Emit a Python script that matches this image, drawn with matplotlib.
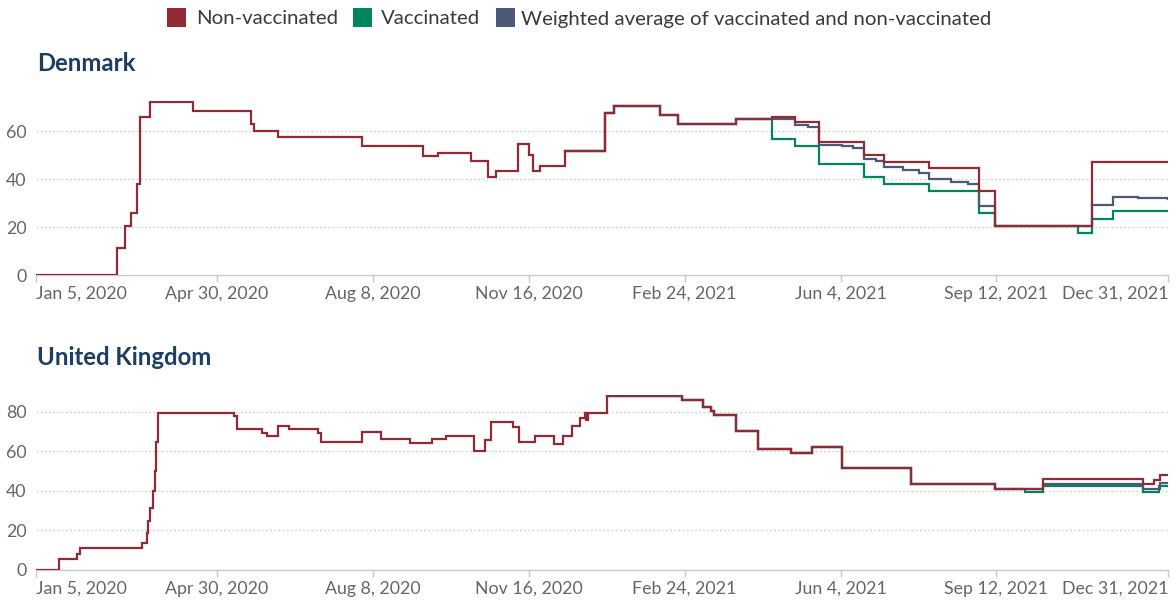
import matplotlib
matplotlib.use("Agg")
import matplotlib.pyplot as plt
from matplotlib.patches import Rectangle
import pandas as pd

plt.rcParams['font.family'] = ['Lato', 'DejaVu Sans']

# ---------------- data ----------------
dk_nonvax_dates = ["2020-01-05", "2020-02-26", "2020-03-02", "2020-03-06", "2020-03-10", "2020-03-12",
                   "2020-03-18", "2020-04-15", "2020-05-22", "2020-05-24", "2020-06-08", "2020-08-01",
                   "2020-09-09", "2020-09-19", "2020-10-10", "2020-10-21", "2020-10-26", "2020-11-09",
                   "2020-11-16", "2020-11-19", "2020-11-23", "2020-12-09", "2021-01-04", "2021-01-10",
                   "2021-02-08", "2021-02-20", "2021-03-29", "2021-04-21", "2021-05-06", "2021-05-21",
                   "2021-06-19", "2021-07-02", "2021-07-31", "2021-09-01", "2021-09-11", "2021-11-12",
                   "2021-12-31"]
dk_nonvax_values = [0, 11.11, 20.37, 25.93, 37.96, 65.74,
                    72.22, 68.52, 62.96, 60.19, 57.41, 53.70,
                    49.54, 50.93, 47.69, 40.74, 43.52, 54.63,
                    50.00, 43.52, 45.37, 51.85, 67.59, 70.37,
                    66.67, 62.96, 64.81, 65.74, 63.89, 55.56,
                    50.00, 47.22, 44.44, 35.19, 20.37, 47.22,
                    47.22]

dk_vax_dates = ["2020-12-09", "2021-01-04", "2021-01-10", "2021-02-08", "2021-02-20", "2021-03-29",
                "2021-04-21", "2021-05-06", "2021-05-21", "2021-06-19", "2021-07-02", "2021-07-31",
                "2021-09-01", "2021-09-11", "2021-11-03", "2021-11-12", "2021-11-26", "2021-12-31"]
dk_vax_values = [51.85, 67.59, 70.37, 66.67, 62.96, 64.81,
                 56.48, 53.70, 46.30, 40.74, 37.96, 35.19,
                 25.93, 20.37, 17.59, 23.15, 26.85, 26.85]

dk_avg_dates = ["2020-12-09", "2021-01-04", "2021-01-10", "2021-02-08", "2021-02-20", "2021-03-29",
                "2021-04-21", "2021-05-01", "2021-05-06", "2021-05-14", "2021-05-21", "2021-06-05",
                "2021-06-12", "2021-06-19", "2021-06-27", "2021-07-02", "2021-07-14", "2021-07-24",
                "2021-07-31", "2021-08-14", "2021-08-25", "2021-09-01", "2021-09-11", "2021-11-12",
                "2021-11-26", "2021-12-12", "2021-12-31"]
dk_avg_values = [51.85, 67.59, 70.37, 66.67, 62.96, 64.81,
                 65.2, 64.8, 62.3, 61.6, 54.3, 53.6,
                 53.0, 48.4, 47.6, 44.9, 43.6, 42.5,
                 40.1, 38.9, 38.0, 28.9, 20.37, 29.3,
                 32.4, 31.9, 31.6]

uk_nonvax_dates = ["2020-01-05", "2020-01-20", "2020-01-31", "2020-02-02", "2020-03-13", "2020-03-16",
                   "2020-03-17", "2020-03-18", "2020-03-20", "2020-03-21", "2020-03-22", "2020-03-23",
                   "2020-05-11", "2020-05-13", "2020-05-29", "2020-06-01", "2020-06-08", "2020-06-15",
                   "2020-07-04", "2020-07-06", "2020-08-01", "2020-08-13", "2020-09-01", "2020-09-15",
                   "2020-09-24", "2020-10-12", "2020-10-19", "2020-10-23", "2020-11-06", "2020-11-10",
                   "2020-11-20", "2020-12-02", "2020-12-08", "2020-12-14", "2020-12-19", "2020-12-22",
                   "2020-12-23", "2020-12-24", "2021-01-05", "2021-02-22", "2021-03-08", "2021-03-13",
                   "2021-03-15", "2021-03-29", "2021-04-12", "2021-05-03", "2021-05-17", "2021-06-05",
                   "2021-07-19", "2021-09-11", "2021-10-12", "2021-12-15", "2021-12-22", "2021-12-26",
                   "2021-12-31"]
uk_nonvax_values = [0, 5.56, 8.33, 11.11, 13.89, 18.52,
                    25.00, 31.48, 40.00, 50.00, 65.00, 79.63,
                    77.78, 71.30, 69.44, 67.59, 73.15, 71.30,
                    69.44, 64.81, 69.91, 66.20, 64.35, 66.20,
                    67.59, 60.19, 65.74, 75.00, 72.22, 64.81,
                    67.59, 63.89, 67.59, 73.15, 76.85, 79.63,
                    75.93, 79.63, 87.96, 86.11, 82.41, 80.56,
                    78.70, 70.37, 61.11, 59.26, 62.04, 51.39,
                    43.52, 41.20, 46.30, 43.52, 45.37, 48.15,
                    48.15]

uk_vax_dates = ["2021-01-05", "2021-02-22", "2021-03-08", "2021-03-13", "2021-03-15", "2021-03-29",
                "2021-04-12", "2021-05-03", "2021-05-17", "2021-06-05", "2021-07-19", "2021-09-11",
                "2021-09-30", "2021-10-12", "2021-12-15", "2021-12-25", "2021-12-31"]
uk_vax_values = [87.96, 86.11, 82.41, 80.56, 78.70, 70.37,
                 61.11, 59.26, 62.04, 51.39, 43.52, 41.20,
                 39.35, 42.59, 39.35, 42.59, 42.59]

uk_avg_dates = ["2021-01-05", "2021-02-22", "2021-03-08", "2021-03-13", "2021-03-15", "2021-03-29",
                "2021-04-12", "2021-05-03", "2021-05-17", "2021-06-05", "2021-07-19", "2021-09-11",
                "2021-09-30", "2021-10-12", "2021-11-15", "2021-12-15", "2021-12-22", "2021-12-26",
                "2021-12-31"]
uk_avg_values = [87.96, 86.11, 82.41, 80.56, 78.70, 70.37,
                 61.11, 59.26, 62.04, 51.39, 43.52, 41.20,
                 40.9, 43.7, 43.4, 40.9, 41.2, 43.8,
                 43.8]

tick_dates = ["2020-01-05", "2020-04-30", "2020-08-08", "2020-11-16", "2021-02-24",
              "2021-06-04", "2021-09-12", "2021-12-31"]
tick_labels = ["Jan 5, 2020", "Apr 30, 2020", "Aug 8, 2020", "Nov 16, 2020", "Feb 24, 2021",
               "Jun 4, 2021", "Sep 12, 2021", "Dec 31, 2021"]

dk_yticks = [0, 20, 40, 60]
uk_yticks = [0, 20, 40, 60, 80]

series_names = ["Non-vaccinated", "Vaccinated", "Weighted average of vaccinated and non-vaccinated"]
colors = ["#922a35", "#00865c", "#4c5878"]

# ---------------- figure ----------------
W, H = 1176, 600
fig = plt.figure(figsize=(W / 100, H / 100), dpi=100)

def fx(px):
    return px / W

def fy(py):
    return (H - py) / H

ax1 = fig.add_axes([fx(36), fy(275), fx(1168) - fx(36), fy(101) - fy(275)])
ax2 = fig.add_axes([fx(36), fy(570), fx(1168) - fx(36), fy(395) - fy(570)])

def style(ax, yticks, ytop, panels):
    for (d, v, c, z) in panels:
        ax.step(pd.to_datetime(d), v, where='post', color=c, lw=1.6, zorder=z,
                solid_joinstyle='miter')
    ax.set_xlim(pd.Timestamp("2020-01-05"), pd.Timestamp("2021-12-31"))
    ax.set_ylim(0, ytop)
    for s in ['top', 'right', 'left']:
        ax.spines[s].set_visible(False)
    ax.spines['bottom'].set_color('#c8c8c8')
    ax.spines['bottom'].set_linewidth(1.0)
    ax.spines['bottom'].set_zorder(0.5)
    ax.set_yticks(yticks)
    ax.set_yticklabels([str(t) for t in yticks])
    ax.tick_params(axis='y', length=0, pad=7, labelsize=12.8, labelcolor='#666666')
    ax.set_xticks(pd.to_datetime(tick_dates))
    ax.set_xticklabels(tick_labels)
    ax.tick_params(axis='x', length=5, width=1, color='#c8c8c8', pad=3,
                   labelsize=12.8, labelcolor='#666666')
    labs = ax.get_xticklabels()
    labs[0].set_ha('left')
    labs[-1].set_ha('right')
    for t in yticks[1:]:
        ax.axhline(t, color='#d6d6d6', lw=1.0, ls=(0, (1.5, 1.5)), zorder=0)
    ax.set_facecolor('none')

style(ax1, dk_yticks, 72.5, [
    (dk_vax_dates, dk_vax_values, colors[1], 2),
    (dk_avg_dates, dk_avg_values, colors[2], 3),
    (dk_nonvax_dates, dk_nonvax_values, colors[0], 4),
])
style(ax2, uk_yticks, 88.6, [
    (uk_vax_dates, uk_vax_values, colors[1], 2),
    (uk_avg_dates, uk_avg_values, colors[2], 3),
    (uk_nonvax_dates, uk_nonvax_values, colors[0], 4),
])

title_color = "#1d3d63"
fig.text(fx(37), fy(71), "Denmark", fontsize=17.2, fontweight='bold', color=title_color,
         ha='left', va='baseline')
fig.text(fx(37), fy(365), "United Kingdom", fontsize=17.2, fontweight='bold', color=title_color,
         ha='left', va='baseline')

# legend
swatch_x = [167, 353, 496]
text_x = [196, 381, 521]
for sx, tx, name, c in zip(swatch_x, text_x, series_names, colors):
    fig.add_artist(Rectangle((fx(sx), fy(27)), fx(19), 19 / H, transform=fig.transFigure,
                             facecolor=c, edgecolor='none'))
    fig.text(fx(tx), fy(24.5), name, fontsize=14.7, color='#3a3a3a', ha='left', va='baseline')

fig.savefig("out.png", dpi=100, facecolor='white')
